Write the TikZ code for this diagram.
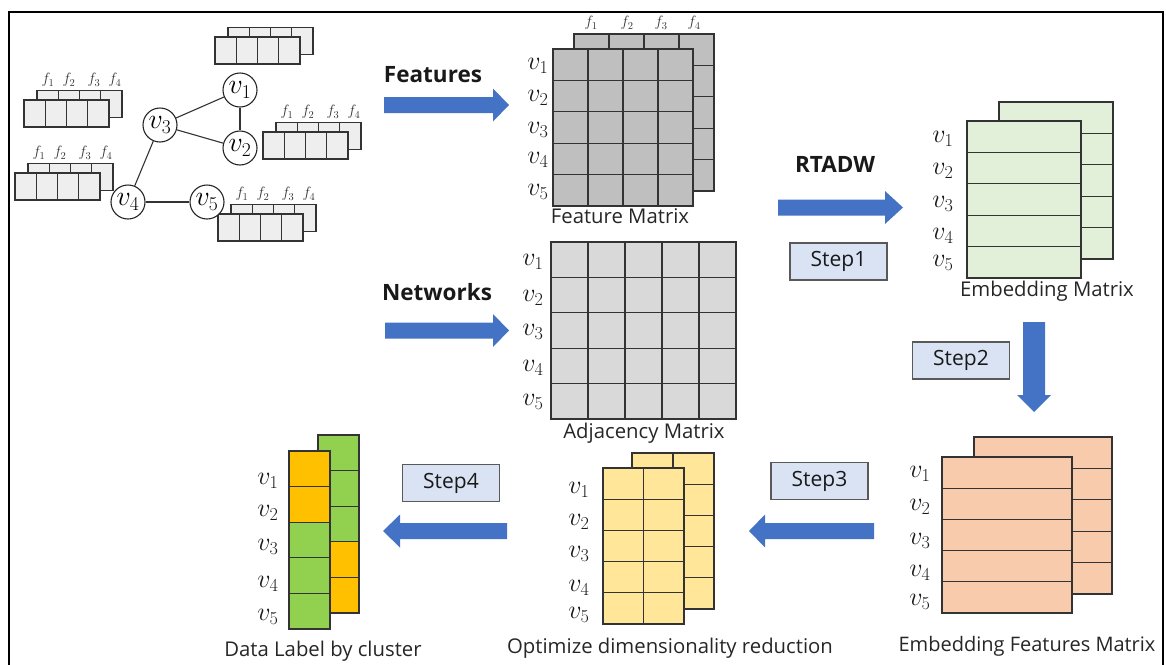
\RequirePackage{fix-cm}
\documentclass[tikz,border=0pt]{standalone}
\usepackage{fontspec}
\setmainfont{Open Sans}
\definecolor{arrowblue}{HTML}{4472C4}
\definecolor{stepfill}{HTML}{DAE3F3}
\definecolor{boxfill}{HTML}{EEEEEE}
\definecolor{featfill}{HTML}{BFBFBF}
\definecolor{adjfill}{HTML}{D9D9D9}
\definecolor{embfill}{HTML}{E2F0D9}
\definecolor{efmfill}{HTML}{F8CBAD}
\definecolor{optfill}{HTML}{FFE699}
\definecolor{clorange}{HTML}{FFC000}
\definecolor{clgreen}{HTML}{92D050}
\newcommand{\mgrid}[7]{%
  \fill[#7] ({#1},{#2}) rectangle ({#3},{#4});
  \ifnum#5>1\relax
    \pgfmathtruncatemacro{\nc}{#5-1}%
    \foreach \i in {1,...,\nc}{\draw[gline] ({(#1)+((#3)-(#1))*\i/#5},{#2}) -- ({(#1)+((#3)-(#1))*\i/#5},{#4});}%
  \fi
  \ifnum#6>1\relax
    \pgfmathtruncatemacro{\nr}{#6-1}%
    \foreach \j in {1,...,\nr}{\draw[gline] ({#1},{(#2)+((#4)-(#2))*\j/#6}) -- ({#3},{(#2)+((#4)-(#2))*\j/#6});}%
  \fi
  \draw[gline] ({#1},{#2}) rectangle ({#3},{#4});
}
\newcommand{\featbox}[2]{%
  \mgrid{(#1)+13}{(#2)-9.5}{(#1)+98}{(#2)+17.5}{4}{1}{boxfill}
  \mgrid{#1}{#2}{(#1)+85}{(#2)+27}{4}{1}{boxfill}
}
\newcommand{\flabels}[3]{%
  \node[fl] (#3f1) at ({(#1)+24},{(#2)-20}) {$f_1$};
  \node[fl] (#3f2) at ({(#1)+45},{(#2)-20}) {$f_2$};
  \node[fl] (#3f3) at ({(#1)+70},{(#2)-20}) {$f_3$};
  \node[fl] (#3f4) at ({(#1)+91},{(#2)-20}) {$f_4$};
}
\newcommand{\myharrow}[4]{%
  \fill[arrowblue] ({#1},{(#4)-8}) -- ({#2},{(#4)-8}) -- ({#2},{(#4)-16.5}) -- ({#3},{#4}) -- ({#2},{(#4)+16.5}) -- ({#2},{(#4)+8}) -- ({#1},{(#4)+8}) -- cycle;
}
\newcommand{\vlabels}[7]{%
  \node[vl] (#2v1) at (#1,#3) {$v_1$};
  \node[vl] (#2v2) at (#1,#4) {$v_2$};
  \node[vl] (#2v3) at (#1,#5) {$v_3$};
  \node[vl] (#2v4) at (#1,#6) {$v_4$};
  \node[vl] (#2v5) at (#1,#7) {$v_5$};
}
\begin{document}
\begin{tikzpicture}[x=1pt,y=-1pt,
  gline/.style={draw=black!80, line width=1.1pt},
  lbl/.style={font=\fontsize{20.3}{24}\selectfont, text=black!85, inner sep=0pt},
  headtext/.style={font=\fontsize{22.5}{26}\selectfont\bfseries, text=black!90, inner sep=0pt},
  vl/.style={font=\fontsize{26}{30}\selectfont, inner sep=0pt, text=black!90},
  fl/.style={font=\fontsize{15}{17}\selectfont, inner sep=0pt, text=black!80},
  stepbox/.style={draw=black!65, line width=1.3pt, fill=stepfill, minimum width=97pt, minimum height=37pt, inner sep=0pt, font=\fontsize{21}{25}\selectfont, text=black!90},
  vnode/.style={circle, draw=black!85, line width=1.1pt, fill=white, minimum size=34pt, inner sep=0pt, font=\fontsize{28}{32}\selectfont},
  edge/.style={draw=black!80, line width=1.1pt}]
\useasboundingbox (0,0) rectangle (1166,664);
% frame
\draw[line width=2.5pt] (9,700) -- (9,12) -- (1163,12) -- (1163,700);

% ---------- graph with feature boxes ----------
\featbox{215}{37}
\featbox{24}{100}
\flabels{24}{100}{b2}
\featbox{263}{132}
\flabels{263}{132}{b3}
\featbox{15}{173}
\flabels{15}{173}{b4}
\featbox{218}{214}
\flabels{218}{214}{b5}

\node[vnode] (g1) at (240,90) {$v_1$};
\node[vnode] (g2) at (240,148) {$v_2$};
\node[vnode] (g3) at (160,125) {$v_3$};
\node[vnode] (g4) at (128,202) {$v_4$};
\node[vnode] (g5) at (207,202) {$v_5$};
\draw[edge] (g3) -- (g1);
\draw[edge] (g3) -- (g2);
\draw[edge] (g1) -- (g2);
\draw[edge] (g3) -- (g4);
\draw[edge] (g4) -- (g5);

% ---------- Features ----------
\node[headtext] (features) at (433,75) {Features};
\myharrow{384}{493}{509}{105}
\mgrid{574}{34}{714}{191}{4}{5}{featfill}
\mgrid{553}{49}{693}{206}{4}{5}{featfill}
\node[fl] (mf1) at (591,23) {$f_1$};
\node[fl] (mf2) at (627,23) {$f_2$};
\node[fl] (mf3) at (661,23) {$f_3$};
\node[fl] (mf4) at (694,23) {$f_4$};
\vlabels{538}{fm}{66}{98}{130}{160}{192}
\node[lbl] (featmat) at (620,216) {Feature Matrix};

% ---------- Networks ----------
\node[headtext] (networks) at (437,292) {Networks};
\myharrow{385}{493}{509}{330.5}
\mgrid{551}{242}{736}{419}{5}{5}{adjfill}
\vlabels{533}{am}{262}{298}{332}{368}{402}
\node[lbl] (adjmat) at (644,433) {Adjacency Matrix};

% ---------- RTADW / Step1 ----------
\node[headtext] (rtadw) at (835,164) {RTADW};
\myharrow{778}{885}{903}{207.5}
\node[stepbox] (step1) at (838.5,261.5) {Step1};
\mgrid{999}{102}{1113}{259}{1}{5}{embfill}
\mgrid{967}{121}{1081}{278}{1}{5}{embfill}
\vlabels{943}{em}{139}{171}{204}{236}{263}
\node[lbl] (embmat) at (1047,291) {Embedding Matrix};

% ---------- Step2 ----------
\node[stepbox] (step2) at (961,360.5) {Step2};
\fill[arrowblue] (1023,322) -- (1045,322) -- (1045,395) -- (1051,395) -- (1034,412) -- (1017,395) -- (1023,395) -- cycle;
\mgrid{974}{437}{1112}{594}{1}{5}{efmfill}
\mgrid{942}{457}{1072}{613}{1}{5}{efmfill}
\vlabels{920}{ef}{474}{507}{541}{573}{602}
\node[lbl, font=\fontsize{20}{24}\selectfont] (efmat) at (1027,646) {Embedding Features Matrix};

% ---------- Step3 ----------
\node[stepbox] (step3) at (819.5,481) {Step3};
\myharrow{874}{765}{749}{531}
\mgrid{632}{453}{714}{609}{2}{5}{optfill}
\mgrid{603}{468}{684}{624}{2}{5}{optfill}
\vlabels{579}{op}{490}{522}{554}{588}{615}
\node[lbl] (optmat) at (670,648) {Optimize dimensionality reduction};

% ---------- Step4 ----------
\node[stepbox] (step4) at (451,483) {Step4};
\myharrow{507}{400}{383}{531}
% back column: green, green, green, orange, orange
\foreach \k/\c in {0/clgreen,1/clgreen,2/clgreen,3/clorange,4/clorange}{
  \filldraw[fill=\c, gline] (318,{435+35.6*\k}) rectangle (359,{435+35.6*(\k+1)});
}
% front column: orange, orange, green, green, green
\foreach \k/\c in {0/clorange,1/clorange,2/clgreen,3/clgreen,4/clgreen}{
  \filldraw[fill=\c, gline] (289,{451+35.6*\k}) rectangle (330,{451+35.6*(\k+1)});
}
\vlabels{268}{dl}{481}{513}{547}{584}{617}
\node[lbl] (dlmat) at (323,651) {Data Label by cluster};
\end{tikzpicture}
\end{document}
